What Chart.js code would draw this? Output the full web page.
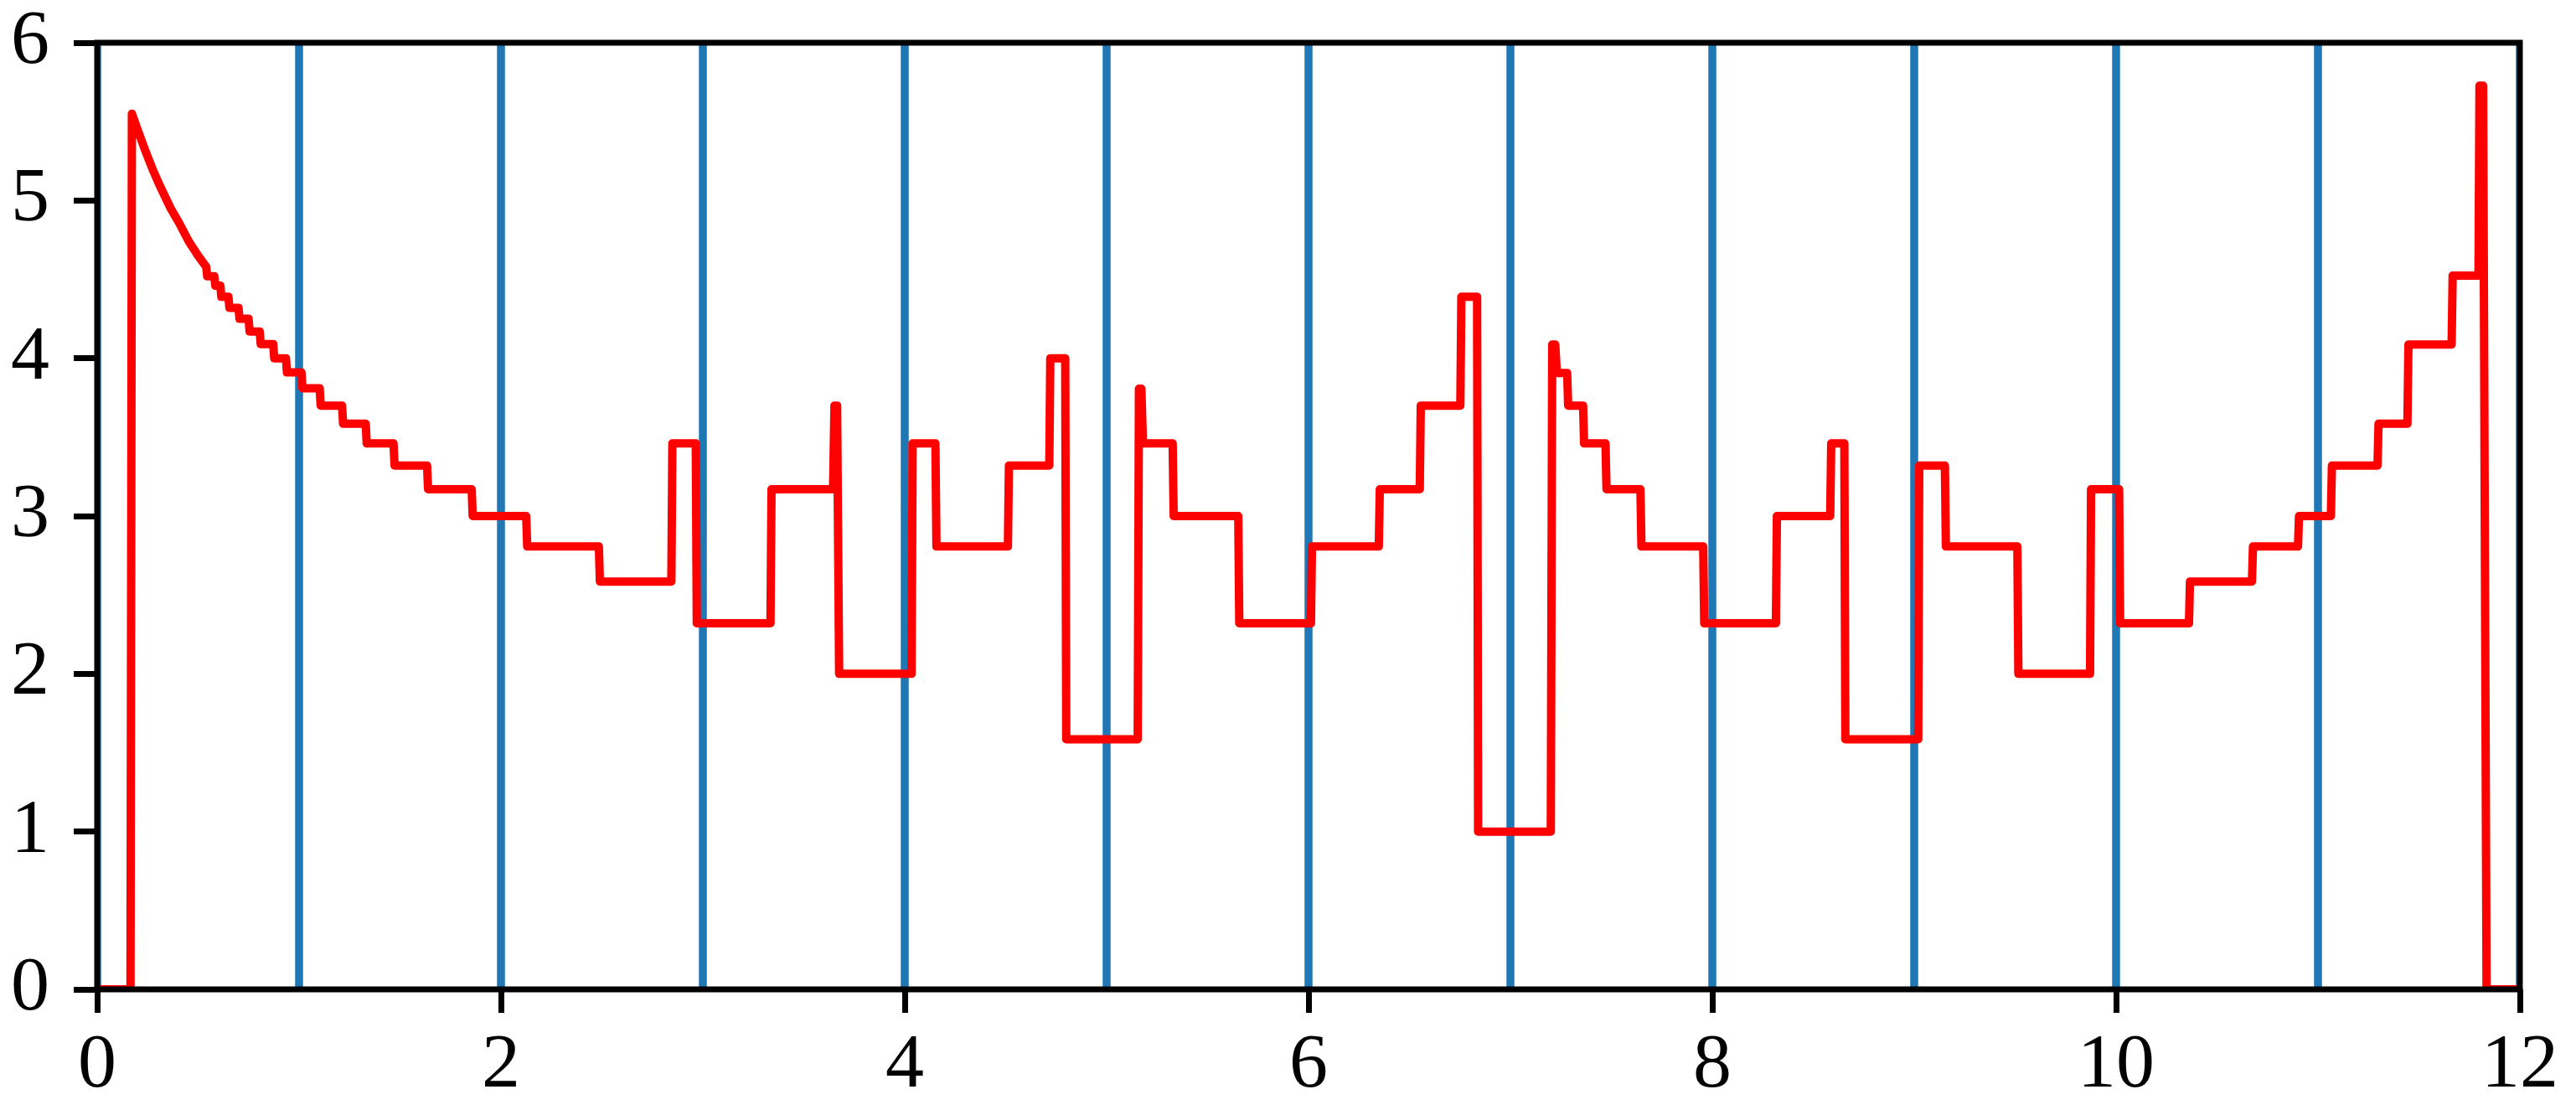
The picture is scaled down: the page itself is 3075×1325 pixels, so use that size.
<!DOCTYPE html>
<html>
<head>
<meta charset="utf-8">
<title>Step signal</title>
<script src="https://cdn.jsdelivr.net/npm/chart.js@4.4.1/dist/chart.umd.min.js"></script>
<style>
    html, body { margin: 0; padding: 0; background: #fff; }
    #wrap { width: 3075px; height: 1325px; }
</style>
</head>
<body>
<div id="wrap"><canvas id="chart" width="3075" height="1325"></canvas></div>
<script>
// axis ticks
const xTicks = [0, 2, 4, 6, 8, 10, 12];
const yTicks = [0, 1, 2, 3, 4, 5, 6];

// blue markers at every integer x
const vlineX = [0, 1, 2, 3, 4, 5, 6, 7, 8, 9, 10, 11, 12];

// red signal (x, y pairs)
const redX = [
    0, 0.165, 0.172, 0.200, 0.240, 0.274, 0.308, 0.364, 0.405, 0.454, 0.500, 0.540,
    0.545, 0.580, 0.585, 0.610, 0.615, 0.650, 0.655, 0.700, 0.705, 0.750, 0.755, 0.805,
    0.810, 0.872, 0.877, 0.935, 0.940, 1.012, 1.017, 1.102, 1.107, 1.213, 1.218, 1.330,
    1.335, 1.468, 1.473, 1.634, 1.639, 1.855, 1.860, 2.125, 2.130, 2.485, 2.490, 2.844,
    2.849, 2.965, 2.970, 3.335, 3.340, 3.645, 3.652, 3.665, 3.675, 4.034, 4.039, 4.152,
    4.157, 4.511, 4.516, 4.716, 4.721, 4.795, 4.800, 5.154, 5.160, 5.172, 5.180, 5.327,
    5.332, 5.652, 5.657, 6.012, 6.017, 6.348, 6.353, 6.551, 6.556, 6.752, 6.757, 6.835,
    6.840, 7.200, 7.207, 7.222, 7.230, 7.281, 7.286, 7.360, 7.365, 7.471, 7.476, 7.644,
    7.649, 7.955, 7.960, 8.315, 8.320, 8.584, 8.589, 8.654, 8.659, 9.020, 9.025, 9.152,
    9.157, 9.511, 9.516, 9.871, 9.876, 10.015, 10.020, 10.361, 10.366, 10.673, 10.678, 10.901,
    10.906, 11.064, 11.069, 11.295, 11.300, 11.443, 11.448, 11.662, 11.667, 11.795, 11.800, 11.818,
    11.835, 12
];
const redY = [
    0, 0, 5.55, 5.45, 5.31, 5.20, 5.10, 4.95, 4.86, 4.74, 4.65, 4.58,
    4.52, 4.52, 4.46, 4.46, 4.39, 4.39, 4.32, 4.32, 4.25, 4.25, 4.17, 4.17,
    4.09, 4.09, 4.00, 4.00, 3.91, 3.91, 3.81, 3.81, 3.70, 3.70, 3.585, 3.585,
    3.46, 3.46, 3.32, 3.32, 3.17, 3.17, 3.00, 3.00, 2.807, 2.807, 2.585, 2.585,
    3.46, 3.46, 2.32, 2.32, 3.17, 3.17, 3.70, 3.70, 2.00, 2.00, 3.46, 3.46,
    2.807, 2.807, 3.32, 3.32, 4.00, 4.00, 1.585, 1.585, 3.807, 3.807, 3.46, 3.46,
    3.00, 3.00, 2.32, 2.32, 2.807, 2.807, 3.17, 3.17, 3.70, 3.70, 4.39, 4.39,
    1.00, 1.00, 4.087, 4.087, 3.907, 3.907, 3.70, 3.70, 3.46, 3.46, 3.17, 3.17,
    2.807, 2.807, 2.32, 2.32, 3.00, 3.00, 3.46, 3.46, 1.585, 1.585, 3.32, 3.32,
    2.807, 2.807, 2.00, 2.00, 3.17, 3.17, 2.32, 2.32, 2.585, 2.585, 2.807, 2.807,
    3.00, 3.00, 3.32, 3.32, 3.585, 3.585, 4.087, 4.087, 4.524, 4.524, 5.728, 5.728,
    0, 0
];

const BLUE = '#1f77b4';
const RED = '#ff0000';
const FONT = { family: '"Liberation Serif", "DejaVu Serif", serif', size: 92 };

// matplotlib-like box drawn over the data
const framePlugin = {
    id: 'frame',
    afterDatasetsDraw(chart) {
        const { ctx, chartArea: a } = chart;
        ctx.save();
        ctx.strokeStyle = '#000';
        ctx.lineWidth = 7;
        ctx.lineJoin = 'miter';
        ctx.strokeRect(a.left, a.top, a.right - a.left, a.bottom - a.top);
        ctx.restore();
    }
};

const vlineSets = vlineX.map(v => ({
    data: [{ x: v, y: yTicks[0] }, { x: v, y: yTicks[yTicks.length - 1] }],
    borderColor: BLUE,
    borderWidth: 9.5,
    pointRadius: 0,
    clip: 0,
    order: 2
}));

const redSet = {
    data: redX.map((x, i) => ({ x: x, y: redY[i] })),
    borderColor: RED,
    borderWidth: 10,
    pointRadius: 0,
    tension: 0,
    borderJoinStyle: 'round',
    clip: 0,
    order: 1
};

const useTicks = (list) => function (scale) {
    scale.ticks = list.map(v => ({ value: v }));
};

new Chart(document.getElementById('chart'), {
    type: 'line',
    data: { datasets: [redSet, ...vlineSets] },
    options: {
        responsive: false,
        devicePixelRatio: 1,
        animation: false,
        layout: { padding: { top: 51, right: 67, left: 0, bottom: 0 } },
        plugins: { legend: { display: false }, tooltip: { enabled: false } },
        scales: {
            x: {
                type: 'linear',
                min: xTicks[0],
                max: xTicks[xTicks.length - 1],
                afterBuildTicks: useTicks(xTicks),
                afterFit: (s) => { s.height = 144; s.paddingLeft = 0; s.paddingRight = 0; },
                border: { display: false },
                grid: { drawOnChartArea: false, tickLength: 28, tickWidth: 7, tickColor: '#000' },
                ticks: { color: '#000', font: FONT, padding: 9, maxRotation: 0 }
            },
            y: {
                type: 'linear',
                min: yTicks[0],
                max: yTicks[yTicks.length - 1],
                afterBuildTicks: useTicks(yTicks),
                afterFit: (s) => { s.width = 116; s.paddingTop = 0; s.paddingBottom = 0; },
                border: { display: false },
                grid: { drawOnChartArea: false, tickLength: 28, tickWidth: 7, tickColor: '#000' },
                ticks: { color: '#000', font: FONT, padding: 29 }
            }
        }
    },
    plugins: [framePlugin]
});
</script>
</body>
</html>
